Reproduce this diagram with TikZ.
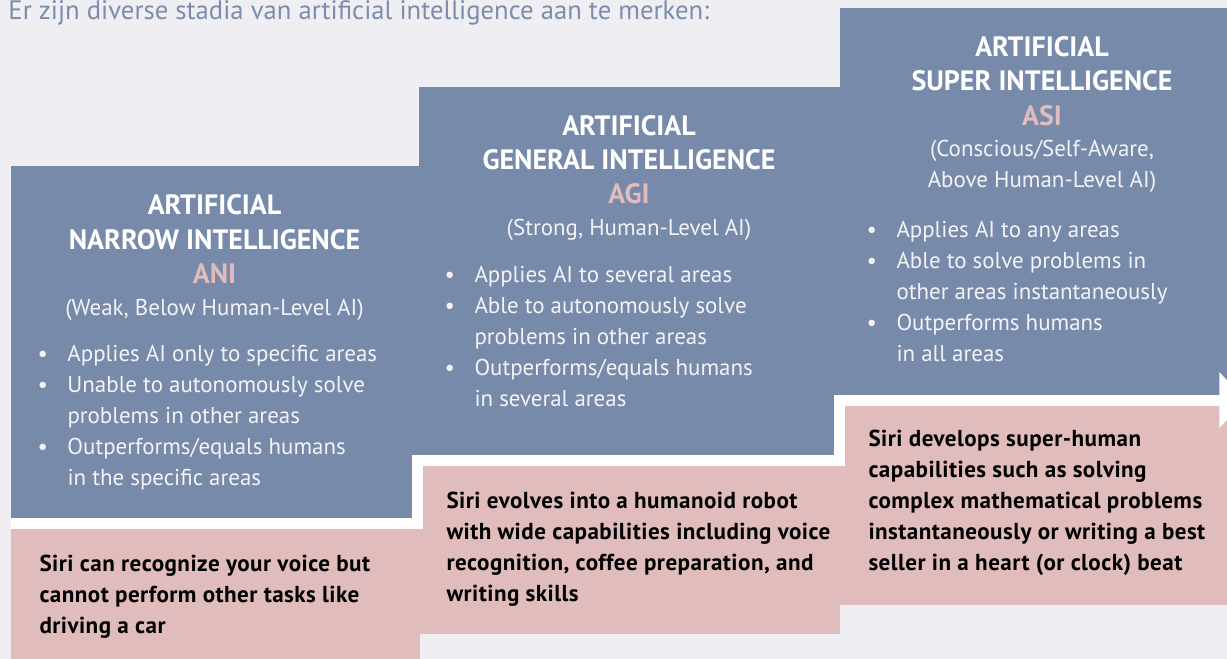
\documentclass[tikz,border=0pt]{standalone}
\usepackage{fontspec}
\setmainfont{PT Sans}
\usetikzlibrary{arrows.meta}

\definecolor{aibg}{HTML}{EFEEF3}
\definecolor{aiblue}{HTML}{788AAA}
\definecolor{aipink}{HTML}{E0BCBC}
\definecolor{aiintro}{HTML}{7C8DAB}
\definecolor{aitext}{HTML}{F3F3F7}

\newcommand\aibullet{\makebox[22.5pt][l]{\textbullet}}
\newcommand\aiindent{\makebox[22.5pt]{}}

\tikzset{every picture/.style={line width=0.75pt}}
% base anchor of a multi-line node sits on its last line
\tikzset{
  stagebox/.style={fill=aiblue, draw=none},
  examplebox/.style={fill=aipink, draw=none},
  stagetitle/.style={anchor=base, inner sep=0pt, align=center, text=white,
    font=\fontsize{21pt}{25.5pt}\selectfont\bfseries},
  acronym/.style={anchor=base, inner sep=0pt, text=aipink,
    font=\fontsize{21pt}{25.5pt}\selectfont\bfseries},
  subtitle/.style={anchor=base, inner sep=0pt, align=center, text=aitext,
    font=\fontsize{17.2pt}{23.25pt}\selectfont},
  points/.style={anchor=base west, inner sep=0pt, align=left, text=aitext,
    font=\fontsize{17.2pt}{23.25pt}\selectfont},
  example/.style={anchor=base west, inner sep=0pt, align=left, text=black,
    font=\fontsize{17.3pt}{23.25pt}\selectfont\bfseries\addfontfeature{LetterSpace=2}},
}

\begin{document}
\begin{tikzpicture}[x=0.75pt,y=0.75pt,yscale=-1,xscale=1]
\clip (0,0) rectangle (1227,659);
\fill[aibg] (0,0) rectangle (1227,659);

%Shape: Rectangle (examples)
\fill[examplebox] (11,518) rectangle (420,670);
\fill[examplebox] (419,455) rectangle (840,634);
\fill[examplebox] (840,395) rectangle (1240,605);
%Shape: Rectangle (stages)
\fill[stagebox] (11,166) rectangle (419,518);
\fill[stagebox] (419,87) rectangle (840,455);
\fill[stagebox] (840,8) rectangle (1240,395);

%Staircase arrow
\coordinate (s0) at (11,523.5);
\coordinate (s1) at (417.5,523.5);
\coordinate (s2) at (417.5,460.5);
\coordinate (s3) at (839.5,460.5);
\coordinate (s4) at (839.5,400);
\coordinate (s5) at (1246,400);
\draw[white, line width=8.25pt, line join=miter,
  -{Triangle[length=20pt,width=40.5pt]}] (s0) -- (s1) -- (s2) -- (s3) -- (s4) -- (s5);

% Text Node
\node[anchor=base west, inner sep=0pt, text=aiintro, font=\fontsize{20pt}{22pt}\selectfont]
  (intro) at (8,20) {Er zijn diverse stadia van artificial intelligence aan te merken:};

% Text Node
\node[stagetitle] (ani) at (214.5,249) {ARTIFICIAL\\NARROW INTELLIGENCE};
\node[acronym] (aniabbr) at (214.5,283) {ANI};
\node[subtitle] (anisub) at (214.5,315) {(Weak, Below Human-Level AI)};
\node[points] (anilist) at (37,485) {\aibullet Applies AI only to specific areas\\
  \aibullet Unable to autonomously solve\\ \aiindent problems in other areas\\
  \aibullet Outperforms/equals humans\\ \aiindent in the specific areas};
\node[example] (aniex) at (39,633) {Siri can recognize your voice but\\
  cannot perform other tasks like\\ driving a car};

% Text Node
\node[stagetitle] (agi) at (629,170) {ARTIFICIAL\\GENERAL INTELLIGENCE};
\node[acronym] (agiabbr) at (629,204) {AGI};
\node[subtitle] (agisub) at (629,236) {(Strong, Human-Level AI)};
\node[points] (agilist) at (444,406) {\aibullet Applies AI to several areas\\
  \aibullet Able to autonomously solve\\ \aiindent problems in other areas\\
  \aibullet Outperforms/equals humans\\ \aiindent in several areas};
\node[example] (agiex) at (446,601) {Siri evolves into a humanoid robot\\
  with wide capabilities including voice\\ recognition, coffee preparation, and\\
  writing skills};

% Text Node
\node[stagetitle] (asi) at (1042,91) {ARTIFICIAL\\SUPER INTELLIGENCE};
\node[acronym] (asiabbr) at (1042,126) {ASI};
\node[subtitle] (asisub) at (1042,188) {(Conscious/Self-Aware,\\Above Human-Level AI)};
\node[points] (asilist) at (866,361) {\aibullet Applies AI to any areas\\
  \aibullet Able to solve problems in\\ \aiindent other areas instantaneously\\
  \aibullet Outperforms humans\\ \aiindent in all areas};
\node[example] (asiex) at (868,570) {Siri develops super-human\\
  capabilities such as solving\\ complex mathematical problems\\
  instantaneously or writing a best\\ seller in a heart (or clock) beat};
\end{tikzpicture}
\end{document}
